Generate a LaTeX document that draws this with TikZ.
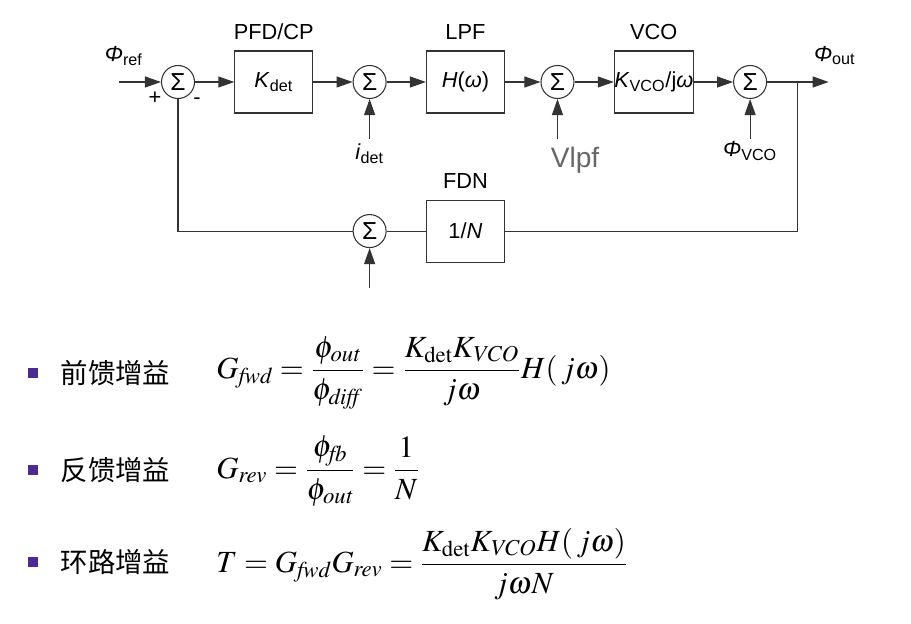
\documentclass[tikz,border=0pt]{standalone}
\usepackage{amsmath}
\usepackage{mathptmx}
\usepackage[no-math]{fontspec}
\setmainfont{Liberation Sans}
\newfontfamily\cjkfont{Noto Sans CJK SC}
\usepackage{tikz}
\usetikzlibrary{positioning,arrows.meta,calc}
\definecolor{tline}{HTML}{333333}
\definecolor{tgray}{HTML}{666666}
\definecolor{tpurple}{HTML}{4B2A96}

\begin{document}
\begin{tikzpicture}[x=0.2mm, y=-0.2mm, font=\fontsize{12.4}{14}\selectfont, node distance=7.85mm,
  sumnode/.style={draw=tline, circle, minimum size=6.6mm, inner sep=0pt, line width=0.6pt, font=\fontsize{14}{16}\selectfont},
  blk/.style={draw=tline, minimum width=15.6mm, minimum height=12.4mm, inner sep=0pt, line width=0.6pt},
  lbl/.style={inner sep=0pt, text depth=0pt},
  wire/.style={tline, line width=0.6pt},
  arr/.style={wire, -{Triangle[length=3.2mm, width=2.2mm]}},
  bul/.style={fill=tpurple, minimum size=2mm, inner sep=0pt},
  zh/.style={font=\cjkfont\fontsize{15.6}{18}\selectfont, inner sep=0pt},
  eqn/.style={font=\fontsize{17.5}{21}\selectfont, anchor=base west, inner sep=0pt}]
\useasboundingbox (0,0) rectangle (911,623);
\node[sumnode] (s1) at (178,82) {Σ};
\node[blk, right=of s1] (pfd) {\textit{K}\textsubscript{det}};
\node[sumnode, right=of pfd] (s2) {Σ};
\node[blk, right=of s2] (lpf) {\textit{H}(\textit{ω})};
\node[sumnode, right=7.1mm of lpf] (s3) {Σ};
\node[blk, right=of s3] (vco) {\textit{K}\textsubscript{VCO}/j\textit{ω}};
\node[sumnode, right=of vco] (s4) {Σ};
\node[lbl, above=2.2mm of pfd] (pfdl) {PFD/CP};
\node[lbl, above=2.2mm of lpf] (lpfl) {LPF};
\node[lbl, above=2.2mm of vco] (vcol) {VCO};
\node[blk, below=17.2mm of lpf] (fdn) {1/\textit{N}};
\node[lbl, above=2.2mm of fdn] (fdnl) {FDN};
\node[sumnode, left=of fdn] (s5) {Σ};
\coordinate[left=8.3mm of s1] (ref);
\coordinate[below=8mm of s2] (iin);
\coordinate[below=8mm of s3] (vin);
\coordinate[below=8mm of s4] (pin);
\coordinate[below=8mm of s5] (fin);
\coordinate[right=6.1mm of s4] (br);
\coordinate[right=6.2mm of br] (out);
\node[lbl, above right=4mm and -3mm of ref] (refl) {\textit{Φ}\textsubscript{ref}};
\node[lbl, above right=4mm and -3mm of out] (outl) {\textit{Φ}\textsubscript{out}};
\node[lbl, below=0.8mm of iin] (idl) {\textit{i}\textsubscript{det}};
\node[lbl, below right=1.6mm and -1.4mm of vin, font=\fontsize{16}{18}\selectfont, text=tgray] (vl) {Vlpf};
\node[lbl, below=0.4mm of pin] (pvl) {\textit{Φ}\textsubscript{VCO}};
\node[lbl] (plus) at ([shift={(-4.6mm,-3.3mm)}]s1) {+};
\node[lbl] (minus) at ([shift={(3.8mm,-3.8mm)}]s1) {-};
\draw[arr] (ref) -- (s1); \draw[arr] (s1) -- (pfd); \draw[arr] (pfd) -- (s2); \draw[arr] (s2) -- (lpf);
\draw[arr] (lpf) -- (s3); \draw[arr] (s3) -- (vco); \draw[arr] (vco) -- (s4);
\draw[arr] (iin) -- (s2); \draw[arr] (vin) -- (s3); \draw[arr] (pin) -- (s4); \draw[arr] (fin) -- (s5);
\draw[wire] (s4) -- (br); \draw[arr] (br) -- (out);
\draw[wire] (br) |- (fdn); \draw[wire] (fdn) -- (s5); \draw[wire] (s5) -| (s1);
\node[bul] (b1) at (33,373) {};
\node[bul] (b2) at (33,470) {};
\node[bul] (b3) at (33,562) {};
\node[zh, right=4.4mm of b1] (t1) {前馈增益};
\node[zh, right=4.4mm of b2] (t2) {反馈增益};
\node[zh, right=4.4mm of b3] (t3) {环路增益};
\node[eqn] (e1) at (216,378) {$G_{\mathit{fwd}} = \dfrac{\phi_{\mathit{out}}}{\phi_{\mathit{diff}}} = \dfrac{K_{\mathrm{det}}K_{\mathit{VCO}}}{j\omega}H(\,j\omega)$};
\node[eqn] (e2) at (216,478) {$G_{\mathit{rev}} = \dfrac{\phi_{\mathit{fb}}}{\phi_{\mathit{out}}} = \dfrac{1}{N}$};
\node[eqn] (e3) at (216,572) {$T = G_{\mathit{fwd}}G_{\mathit{rev}} = \dfrac{K_{\mathrm{det}}K_{\mathit{VCO}}H(\,j\omega)}{j\omega N}$};
\end{tikzpicture}
\end{document}
